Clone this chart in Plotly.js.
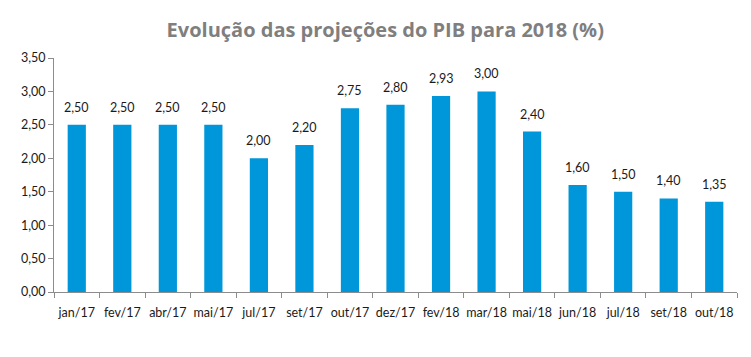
<!DOCTYPE html>
<html><head><meta charset="utf-8">
<script src="https://cdn.plot.ly/plotly-3.0.1.min.js"></script>
<style>body{margin:0;padding:0;background:#fff}#chart{width:751px;height:357px}</style>
</head><body><div id="chart"></div>
<script>
const categories = ["jan/17","fev/17","abr/17","mai/17","jul/17","set/17","out/17","dez/17","fev/18","mar/18","mai/18","jun/18","jul/18","set/18","out/18"];
const values = [2.50,2.50,2.50,2.50,2.00,2.20,2.75,2.80,2.93,3.00,2.40,1.60,1.50,1.40,1.35];
const titleText = "Evolução das projeções do PIB para 2018 (%)";

const trace = {
  type: "bar",
  x: categories,
  y: values,
  marker: {color: "#0096DA"},
  width: 0.4,
  hoverinfo: "skip"
};

const annotations = categories.map((c, i) => ({
  x: c, y: values[i], xref: "x", yref: "y",
  text: values[i].toFixed(2).replace(".", ","),
  showarrow: false, yanchor: "bottom", yshift: 8,
  font: {family: "Lato, 'Open Sans', sans-serif", size: 12.5, color: "#1a1a1a"}
}));

const layout = {
  width: 751, height: 357,
  margin: {l: 54, r: 14, t: 58, b: 65},
  separators: ",.",
  paper_bgcolor: "#fff", plot_bgcolor: "#fff",
  showlegend: false,
  annotations: annotations,
  title: {text: "<b>" + titleText + "</b>", x: 0.513, xanchor: "center", y: 0.935, yanchor: "top",
          font: {family: "'Open Sans', Lato, sans-serif", size: 20, color: "#7f7f7f"}},
  font: {family: "Lato, 'Open Sans', sans-serif", size: 12.5, color: "#1a1a1a"},
  xaxis: {
    type: "category", showline: true, linecolor: "#8c8c8c", linewidth: 1,
    ticks: "outside", tickson: "boundaries", ticklen: 5, tickcolor: "#8c8c8c",
    tickangle: 0, automargin: false, ticklabelstandoff: 9,
    showgrid: false, tickfont: {size: 12.5, color: "#1a1a1a"}, fixedrange: true
  },
  yaxis: {
    range: [0, 3.5], dtick: 0.5, tickformat: ".2f",
    showline: true, linecolor: "#8c8c8c", linewidth: 1,
    ticks: "outside", ticklen: 5, tickcolor: "#8c8c8c", automargin: false,
    showgrid: false, zeroline: false, tickfont: {size: 12.5, color: "#1a1a1a"}, fixedrange: true
  }
};

Plotly.newPlot("chart", [trace], layout, {displayModeBar: false, staticPlot: true});
</script>
</body></html>
